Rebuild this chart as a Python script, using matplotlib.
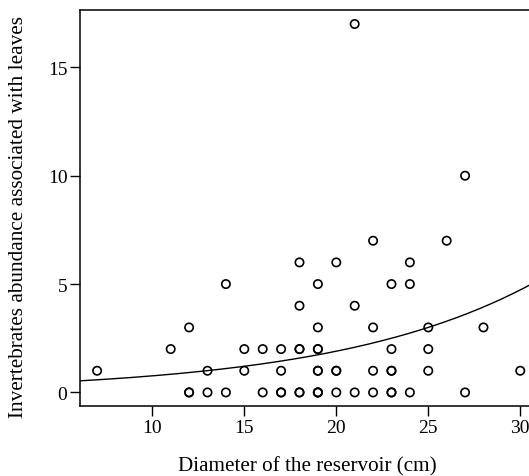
import numpy as np
import matplotlib
matplotlib.use("Agg")
import matplotlib.pyplot as plt

# diameter of the reservoir (cm) and invertebrate abundance
diameter = [7, 11, 12, 12, 12, 13, 13, 14, 14, 15, 15, 16, 16,
            17, 17, 17, 17, 18, 18, 18, 18, 18, 18,
            19, 19, 19, 19, 19, 19, 19, 19, 19,
            20, 20, 20, 20, 21, 21, 21, 22, 22, 22, 22,
            23, 23, 23, 23, 23, 23, 24, 24, 24,
            25, 25, 25, 26, 27, 27, 28, 30]
abundance = [1, 2, 3, 0, 0, 1, 0, 5, 0, 2, 1, 2, 0,
             2, 1, 0, 0, 6, 4, 2, 2, 0, 0,
             5, 3, 2, 2, 1, 1, 0, 0, 0,
             6, 1, 1, 0, 17, 4, 0, 7, 3, 1, 0,
             5, 2, 1, 1, 0, 0, 6, 5, 0,
             3, 2, 1, 7, 10, 0, 3, 1]

# fitted exponential curve, coefficients
b0 = -1.179
b1 = 0.0911

plt.rcParams['font.family'] = ['Liberation Serif', 'DejaVu Serif']

fig = plt.figure(figsize=(5.29, 4.77), dpi=100)
ax = fig.add_axes([80/529, 69.7/477, 451.3/529, 396.6/477])

ax.scatter(diameter, abundance, s=36, facecolors='none', edgecolors='black',
           linewidths=1.2, zorder=3)

xs = np.linspace(6.07, 30.6, 200)
ax.plot(xs, np.exp(b0 + b1*xs), color='black', lw=1.0)

ax.set_xlim(6.07, 30.6)
ax.set_ylim(-0.64, 17.66)
ax.set_xticks([10, 15, 20, 25, 30])
ax.set_yticks([0, 5, 10, 15])
ax.tick_params(direction='out', length=7, width=1.0, labelsize=14, pad=2)

for s in ax.spines.values():
    s.set_linewidth(1.1)

ax.set_xlabel("Diameter of the reservoir (cm)", fontsize=15.2)
ax.xaxis.set_label_coords(0.503, -0.125)
ax.set_ylabel("Invertebrates abundance associated with leaves", fontsize=15.3)
ax.yaxis.set_label_coords(-0.115, 0.479)

fig.savefig("out.png", dpi=100)
